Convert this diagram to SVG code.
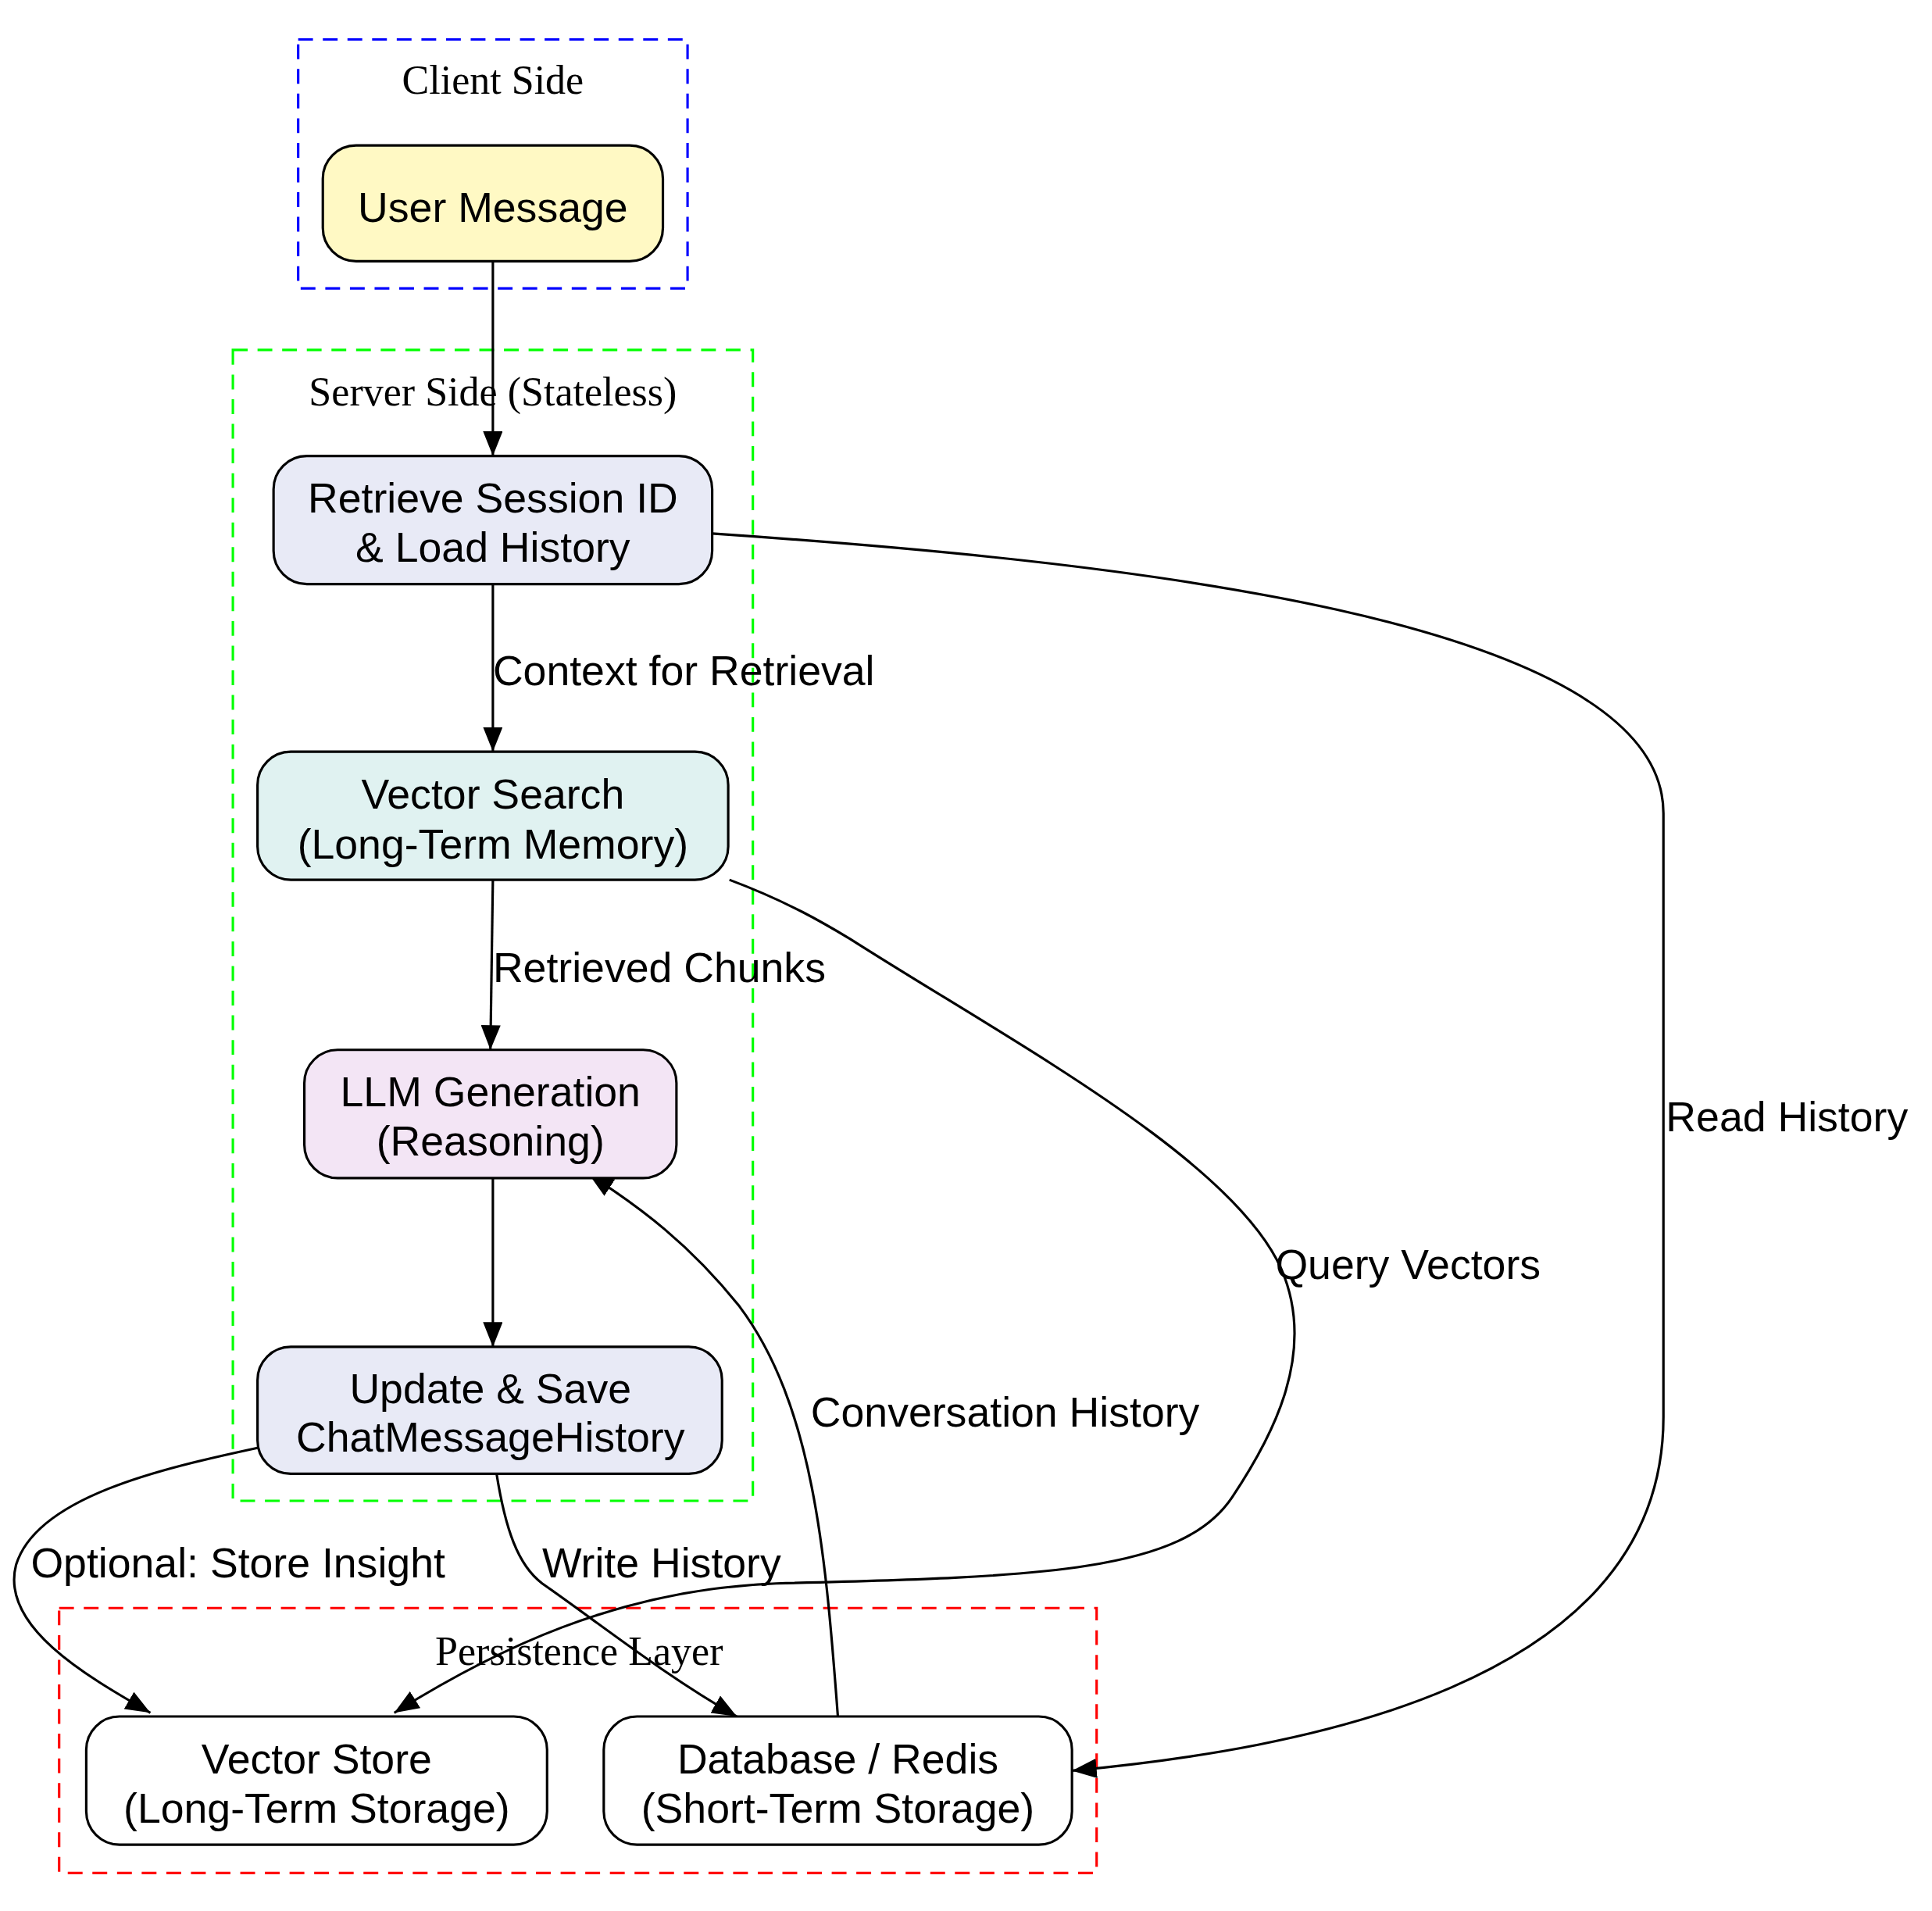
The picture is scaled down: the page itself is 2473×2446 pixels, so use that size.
<svg xmlns="http://www.w3.org/2000/svg" width="2473" height="2446" viewBox="0 0 2473 2446">
<style>
.n{stroke:#000;stroke-width:2}
.t{font-family:"Liberation Sans",Arial,sans-serif;font-size:34px;text-anchor:middle;fill:#000}
.el{font-family:"Liberation Sans",Arial,sans-serif;font-size:34px;fill:#000}
.cl{font-family:"Liberation Serif","Times New Roman",serif;font-size:33px;text-anchor:middle;fill:#000}
.c{fill:none;stroke-width:2;stroke-dasharray:12,8}
.e{fill:none;stroke:#000;stroke-width:2;marker-end:url(#a)}
</style>
<defs><marker id="a" markerUnits="userSpaceOnUse" markerWidth="22" markerHeight="16" refX="20" refY="8" orient="auto"><path d="M0,0L20,8L0,16z" fill="#000"/></marker></defs>
<rect width="2473" height="2446" fill="#fff"/>
<g transform="scale(1.5772)">
<g id="clusters">
<rect class="c" stroke="#0000ff" x="242" y="32" width="316" height="202"/>
<text class="cl" x="400" y="76">Client Side</text>
<rect class="c" stroke="#00ff00" x="189" y="284" width="422" height="934"/>
<text class="cl" x="400" y="329">Server Side (Stateless)</text>
<rect class="c" stroke="#ff0000" x="48" y="1305" width="842" height="215"/>
<text class="cl" x="470" y="1351">Persistence Layer</text>
</g>
<g id="edges">
<path class="e" d="M400,212L400,370"/>
<path class="e" d="M400,474L400,610"/><text class="el" x="400" y="556">Context for Retrieval</text>
<path class="e" d="M400,714L398,852"/><text class="el" x="400" y="797">Retrieved Chunks</text>
<path class="e" d="M400,956L400,1093"/>
<path class="e" d="M578,433C900,455 1350,500 1350,660L1350,1150C1350,1370 1050,1420 870,1437"/><text class="el" x="1352" y="918">Read History</text>
<path class="e" d="M592,714C640,732 670,750 690,762C820,845 1000,940 1040,1030C1070,1100 1030,1170 1000,1215C960,1275 850,1280 630,1285C500,1290 400,1340 320,1390"/><text class="el" x="1035" y="1038">Query Vectors</text>
<path class="e" d="M680,1393C670,1260 660,1140 600,1060C560,1010 520,980 478,953"/><text class="el" x="658" y="1158">Conversation History</text>
<path class="e" d="M403,1196C410,1240 420,1270 440,1285C490,1320 540,1360 598,1393"/><text class="el" x="440" y="1280">Write History</text>
<path class="e" d="M209,1175C130,1192 30,1215 13,1270C0,1320 70,1360 122,1390"/><text class="el" x="25" y="1280">Optional: Store Insight</text>
</g>
<g id="user"><rect class="n" fill="#fff9c4" x="262" y="118" width="276" height="94" rx="27"/><text class="t" x="400" y="180">User Message</text></g>
<g id="retrieve"><rect class="n" fill="#e8eaf6" x="222" y="370" width="356" height="104" rx="27"/><text class="t" x="400" y="416">Retrieve Session ID</text><text class="t" x="400" y="456">&amp; Load History</text></g>
<g id="vsearch"><rect class="n" fill="#e0f2f1" x="209" y="610" width="382" height="104" rx="27"/><text class="t" x="400" y="656">Vector Search</text><text class="t" x="400" y="697">(Long-Term Memory)</text></g>
<g id="llm"><rect class="n" fill="#f3e5f5" x="247" y="852" width="302" height="104" rx="27"/><text class="t" x="398" y="898">LLM Generation</text><text class="t" x="398" y="938">(Reasoning)</text></g>
<g id="update"><rect class="n" fill="#e8eaf6" x="209" y="1093" width="377" height="103" rx="27"/><text class="t" x="398" y="1139">Update &amp; Save</text><text class="t" x="398" y="1178">ChatMessageHistory</text></g>
<g id="vstore"><rect class="n" fill="#fff" x="70" y="1393" width="374" height="104" rx="27"/><text class="t" x="257" y="1439">Vector Store</text><text class="t" x="257" y="1479">(Long-Term Storage)</text></g>
<g id="db"><rect class="n" fill="#fff" x="490" y="1393" width="380" height="104" rx="27"/><text class="t" x="680" y="1439">Database / Redis</text><text class="t" x="680" y="1479">(Short-Term Storage)</text></g>
</g>
</svg>
